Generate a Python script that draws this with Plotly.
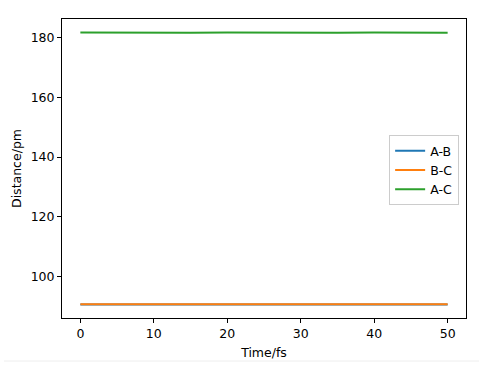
import plotly.graph_objects as go

time_fs = [0, 5, 10, 15, 20, 25, 30, 35, 40, 45, 50]
ab = [90.8, 90.8, 90.8, 90.8, 90.8, 90.8, 90.8, 90.8, 90.8, 90.8, 90.8]
bc = [90.85, 90.82, 90.84, 90.87, 90.85, 90.82, 90.84, 90.87, 90.85, 90.83, 90.85]
ac = [181.6, 181.5, 181.4, 181.5, 181.6, 181.5, 181.4, 181.5, 181.6, 181.5, 181.5]
names = ["A-B", "B-C", "A-C"]
colors = ["#1f77b4", "#ff7f0e", "#2ca02c"]

fig = go.Figure()
for name, ys, c in zip(names, [ab, bc, ac], colors):
    fig.add_trace(go.Scatter(x=time_fs, y=ys, mode="lines", name=name,
                             line=dict(color=c, width=2)))

axis_common = dict(showline=True, linecolor="black", linewidth=1, mirror=True,
                   ticks="outside", ticklen=4, tickcolor="black", showgrid=False,
                   automargin=False,
                   zeroline=False, tickfont=dict(family="DejaVu Sans", size=12.5, color="black"))

fig.update_layout(
    width=479, height=366,
    margin=dict(l=62, r=13, t=19, b=48),
    paper_bgcolor="white", plot_bgcolor="white",
    font=dict(family="DejaVu Sans", size=12.5, color="black"),
    xaxis=dict(range=[-2.5, 52.5], tickvals=[0, 10, 20, 30, 40, 50],
               title=dict(text="Time/fs", standoff=8, font=dict(size=12.5)), **axis_common),
    yaxis=dict(range=[86.26, 186.1], tickvals=[100, 120, 140, 160, 180],
               title=dict(text="Distance/pm", standoff=6, font=dict(size=12.5)), **axis_common),
    legend=dict(x=0.983, y=0.612, xanchor="right", yanchor="top",
                bordercolor="#cccccc", borderwidth=1, bgcolor="white",
                font=dict(size=12.5), tracegroupgap=0, itemwidth=30),
    showlegend=True,
    shapes=[dict(type="line", xref="paper", yref="paper",
                 x0=-58/404, x1=417/404, y0=-43/299, y1=-43/299,
                 line=dict(color="#eeeeee", width=1))],
)

fig.write_html("out.html")
